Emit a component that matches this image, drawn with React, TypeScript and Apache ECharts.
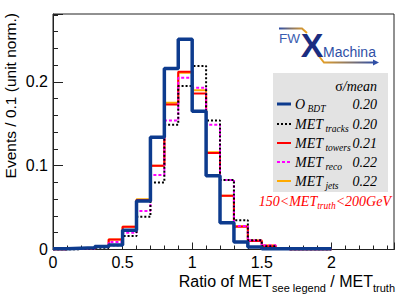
import React, { useEffect, useRef } from "react";
import * as echarts from "echarts";

// ---- data ----
const binLow = [0, 0.1, 0.2, 0.3, 0.4, 0.5, 0.6, 0.7, 0.8, 0.9, 1.0, 1.1, 1.2, 1.3, 1.4, 1.5, 1.6, 1.7, 1.8, 1.9];
const binWidth = 0.1;
const oBDT = [0.001, 0.0015, 0.002, 0.0035, 0.0055, 0.023, 0.058, 0.134, 0.216, 0.251, 0.165, 0.088, 0.032, 0.009, 0.003, 0.001, 0.001, 0.001, 0.001, 0.001];
const metTracks = [0, 0, 0.001, 0.002, 0.005, 0.016, 0.039, 0.08, 0.149, 0.195, 0.219, 0.154, 0.083, 0.035, 0.011, 0.004, 0.001, 0, 0, 0];
const metTowers = [0, 0.001, 0.001, 0.003, 0.012, 0.027, 0.059, 0.1, 0.173, 0.212, 0.186, 0.115, 0.064, 0.027, 0.01, 0.004, 0.001, 0, 0, 0];
const metReco = [0, 0.001, 0.001, 0.003, 0.009, 0.02, 0.046, 0.089, 0.154, 0.205, 0.193, 0.149, 0.083, 0.028, 0.011, 0.005, 0.001, 0, 0, 0];
const metJets = [0, 0.001, 0.001, 0.003, 0.012, 0.027, 0.06, 0.1, 0.175, 0.211, 0.19, 0.116, 0.064, 0.028, 0.011, 0.005, 0.001, 0, 0, 0];

const legendMain = ["O", "MET", "MET", "MET", "MET"];
const legendSub = ["BDT", "tracks", "towers", "reco", "jets"];
const sigmaOverMean = ["0.20", "0.20", "0.21", "0.22", "0.22"];
const xTickLabels = [0, 0.5, 1, 1.5, 2];
const yTickLabels = [0, 0.1, 0.2];

const SANS = '"Liberation Sans", Arial, sans-serif';
const SERIF = '"Liberation Serif", "Times New Roman", serif';

const styles = [
  { color: "#ffaa00", width: 2, type: "solid" as any },
  { color: "#ff0000", width: 2, type: "solid" as any },
  { color: "#ff00ff", width: 2, type: [3, 2] as any },
  { color: "#000000", width: 2, type: [2, 2] as any },
  { color: "#0d3b8e", width: 3.5, type: "solid" as any },
];

function steps(vals: number[]) {
  const pts: number[][] = [];
  vals.forEach((v, i) => {
    pts.push([binLow[i], v]);
    pts.push([binLow[i] + binWidth, v]);
  });
  return pts;
}

let measureCtx: CanvasRenderingContext2D | null = null;
function textWidth(text: string, font: string) {
  if (!measureCtx) measureCtx = document.createElement("canvas").getContext("2d");
  measureCtx!.font = font;
  return measureCtx!.measureText(text).width;
}

type Part = { text: string; size: number; dy: number; italic?: boolean; family: string; color: string };
function partsLine(parts: Part[], x0: number, yc: number, align: "left" | "right", z = 20) {
  const fonts = parts.map((p) => `${p.italic ? "italic " : ""}${p.size}px ${p.family}`);
  const widths = parts.map((p, i) => textWidth(p.text, fonts[i]));
  const total = widths.reduce((a, b) => a + b, 0);
  let x = align === "left" ? x0 : x0 - total;
  return parts.map((p, i) => {
    const el = {
      type: "text",
      x,
      y: yc + p.dy,
      z,
      style: {
        text: p.text,
        fill: p.color,
        fontSize: p.size,
        fontFamily: p.family,
        fontStyle: p.italic ? "italic" : "normal",
        align: "left",
        verticalAlign: "middle",
      },
    };
    x += widths[i];
    return el;
  });
}

const near = (v: number, arr: number[]) => arr.some((a) => Math.abs(a - v) < 1e-6);

export default function App() {
  const ref = useRef<HTMLDivElement>(null);
  useEffect(() => {
    if (!ref.current) return;
    const chart = echarts.init(ref.current, undefined, { renderer: "svg" });
    const axisColor = "#222";
    const seriesData = [metJets, metTowers, metReco, metTracks, oBDT];
    const series = seriesData.map((vals, i) => ({
      type: "line",
      data: steps(vals),
      symbol: "none",
      lineStyle: { color: styles[i].color, width: styles[i].width, type: styles[i].type },
      z: 2 + i,
      clip: true,
    }));

    // legend graphics
    const legendColorOrder = [4, 3, 1, 2, 0]; // BDT, tracks, towers, reco, jets
    const rowY = [104, 124, 143, 162, 181];
    const graphics: any[] = [
      { type: "rect", shape: { x: 273, y: 73, width: 115, height: 119 }, style: { fill: "#e3e3e3" }, z: 10 },
      ...partsLine(
        [
          { text: "σ", size: 14, dy: 0, family: SERIF, color: "#000" },
          { text: "/mean", size: 14, dy: 0, italic: true, family: SERIF, color: "#000" },
        ],
        377,
        86,
        "right"
      ),
    ];
    rowY.forEach((y, i) => {
      const st = styles[legendColorOrder[i]];
      graphics.push({
        type: "line",
        shape: { x1: 277, y1: y, x2: 291, y2: y },
        style: { stroke: st.color, lineWidth: st.width === 3.5 ? 3 : 2, lineDash: st.type === "solid" ? null : st.type },
        z: 20,
      });
      graphics.push(
        ...partsLine(
          [
            { text: legendMain[i], size: 14, dy: 0, italic: true, family: SERIF, color: "#000" },
            { text: " " + legendSub[i], size: 9.5, dy: 5, italic: true, family: SERIF, color: "#000" },
          ],
          295,
          y,
          "left"
        )
      );
      graphics.push({
        type: "text",
        x: 377,
        y,
        z: 20,
        style: { text: sigmaOverMean[i], fill: "#000", fontSize: 14, fontFamily: SERIF, fontStyle: "italic", align: "right", verticalAlign: "middle" },
      });
    });
    // cut text
    graphics.push(
      ...partsLine(
        [
          { text: "150<MET", size: 14, dy: 0, italic: true, family: SERIF, color: "#ff0000" },
          { text: "truth", size: 9.5, dy: 5, italic: true, family: SERIF, color: "#ff0000" },
          { text: "<200GeV", size: 14, dy: 0, italic: true, family: SERIF, color: "#ff0000" },
        ],
        391,
        201,
        "right"
      )
    );
    // x title
    graphics.push(
      ...partsLine(
        [
          { text: "Ratio of MET", size: 16, dy: 0, family: SANS, color: "#000" },
          { text: "see legend", size: 11, dy: 7, family: SANS, color: "#000" },
          { text: " / MET", size: 16, dy: 0, family: SANS, color: "#000" },
          { text: "truth", size: 11, dy: 7, family: SANS, color: "#000" },
        ],
        395,
        281,
        "right"
      )
    );
    // y title
    graphics.push({
      type: "text",
      x: 10,
      y: 13,
      rotation: Math.PI / 2,
      z: 20,
      style: { text: "Events / 0.1 (unit norm.)", fill: "#000", fontSize: 15.5, fontFamily: SANS, align: "right", verticalAlign: "middle" },
    });
    // logo
    const gradBO = new echarts.graphic.LinearGradient(0, 0, 1, 0, [
      { offset: 0, color: "#2f4fa6" },
      { offset: 1, color: "#f2a51e" },
    ]);
    const gradOB = new echarts.graphic.LinearGradient(0, 0, 1, 0, [
      { offset: 0, color: "#f2a51e" },
      { offset: 1, color: "#2f4fa6" },
    ]);
    graphics.push(
      { type: "polyline", shape: { points: [[279, 28.5], [302, 28.5], [307, 33]] }, style: { stroke: gradBO, lineWidth: 2, fill: null }, z: 20 },
      { type: "polyline", shape: { points: [[318, 55], [324, 62.5], [375, 62.5]] }, style: { stroke: gradOB, lineWidth: 2, fill: null }, z: 20 },
      { type: "polygon", shape: { points: [[373, 59.5], [379, 62.5], [373, 65.5]] }, style: { fill: "#2f4fa6" }, z: 20 },
      { type: "text", x: 279, y: 38, z: 21, style: { text: "FW", fill: "#3a5cb0", fontSize: 13.5, fontFamily: SANS, align: "left", verticalAlign: "middle" } },
      { type: "text", x: 312, y: 45, z: 21, style: { text: "X", fill: "#1b2d80", fontSize: 34, fontWeight: "bold", fontFamily: SANS, align: "center", verticalAlign: "middle" } },
      { type: "text", x: 323, y: 52, z: 21, style: { text: "Machina", fill: "#2f4fa6", fontSize: 14, fontFamily: SANS, align: "left", verticalAlign: "middle" } }
    );

    const option: any = {
      animation: false,
      backgroundColor: "#fff",
      grid: { left: 53, top: 14, right: 17, bottom: 45.5, show: true, borderColor: axisColor, borderWidth: 1, backgroundColor: "transparent" },
      xAxis: [
        {
          type: "value",
          min: 0,
          max: 2.45,
          interval: 0.5,
          axisLine: { show: true, lineStyle: { color: axisColor } },
          axisTick: { show: true, inside: true, length: 7, lineStyle: { color: axisColor } },
          axisLabel: {
            formatter: (v: number) => (near(v, xTickLabels) ? String(v) : ""),
            fontSize: 16,
            fontFamily: SANS,
            color: "#000",
            margin: 5,
          },
          splitLine: { show: false },
        },
        {
          type: "value",
          min: 0,
          max: 2.45,
          interval: 0.1,
          position: "bottom",
          axisLine: { show: false },
          axisTick: { show: true, inside: true, length: 4, lineStyle: { color: axisColor } },
          axisLabel: { show: false },
          splitLine: { show: false },
        },
      ],
      yAxis: [
        {
          type: "value",
          min: 0,
          max: 0.281,
          interval: 0.1,
          axisLine: { show: true, lineStyle: { color: axisColor } },
          axisTick: { show: true, inside: true, length: 10, lineStyle: { color: axisColor } },
          axisLabel: {
            formatter: (v: number) => (near(v, yTickLabels) ? String(v) : ""),
            fontSize: 16,
            fontFamily: SANS,
            color: "#000",
            margin: 5,
          },
          splitLine: { show: false },
        },
        {
          type: "value",
          min: 0,
          max: 0.281,
          interval: 0.02,
          position: "left",
          axisLine: { show: false },
          axisTick: { show: true, inside: true, length: 5, lineStyle: { color: axisColor } },
          axisLabel: { show: false },
          splitLine: { show: false },
        },
      ],
      series,
      graphic: { elements: graphics },
    };
    chart.setOption(option);
    return () => chart.dispose();
  }, []);
  return <div ref={ref} style={{ position: "fixed", left: 0, top: 0, width: 411, height: 295 }} />;
}
